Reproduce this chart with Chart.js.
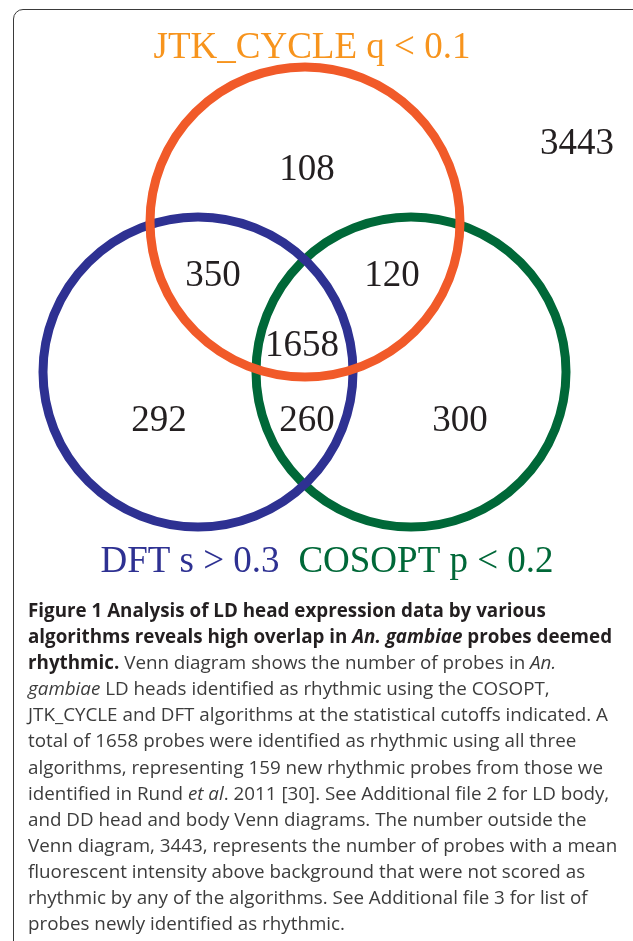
<!DOCTYPE html>
<html>
<head>
<meta charset="utf-8">
<script src="https://cdn.jsdelivr.net/npm/chart.js@4/dist/chart.umd.min.js"></script>
<style>
  html, body { margin: 0; padding: 0; background: #fff; overflow: hidden; }
  #wrap { position: relative; width: 633px; height: 941px; }
  #frame { position: absolute; left: 13px; top: 9px; width: 640px; height: 950px;
           border: 1.5px solid #3a3a3a; border-radius: 10px; box-sizing: border-box; }
  #myChart { position: absolute; left: 0; top: 0; }
  #caption { position: absolute; left: 28px; top: 597px; font-family: "Open Sans", sans-serif;
             font-size: 19px; line-height: 26.1px; color: #3c3c3c; white-space: nowrap;
             transform-origin: 0 0; }
  #caption b { color: #231f20; }
</style>
</head>
<body>
<div id="wrap">
  <div id="frame"></div>
  <canvas id="myChart" width="633" height="941"></canvas>
  <div id="caption">
    <div><b>Figure 1 Analysis of LD head expression data by various</b></div>
    <div><b>algorithms reveals high overlap in <i>An. gambiae</i> probes deemed</b></div>
    <div><b>rhythmic.</b> Venn diagram shows the number of probes in <i>An.</i></div>
    <div><i>gambiae</i> LD heads identified as rhythmic using the COSOPT,</div>
    <div id="refLine">JTK_CYCLE and DFT algorithms at the statistical cutoffs indicated. A</div>
    <div>total of 1658 probes were identified as rhythmic using all three</div>
    <div>algorithms, representing 159 new rhythmic probes from those we</div>
    <div>identified in Rund <i>et al</i>. 2011 [30]. See Additional file 2 for LD body,</div>
    <div>and DD head and body Venn diagrams. The number outside the</div>
    <div>Venn diagram, 3443, represents the number of probes with a mean</div>
    <div>fluorescent intensity above background that were not scored as</div>
    <div>rhythmic by any of the algorithms. See Additional file 3 for list of</div>
    <div>probes newly identified as rhythmic.</div>
  </div>
</div>
<script>
// sets and region counts
const setNames = ['JTK_CYCLE q < 0.1', 'DFT s > 0.3', 'COSOPT p < 0.2'];
const setColors = ['#f15a29', '#2e3192', '#006838'];
const setTextColors = ['#f7941d', '#2e3192', '#006838'];
const regionNames = ['JTK only', 'DFT only', 'COSOPT only', 'JTK+DFT', 'JTK+COSOPT', 'DFT+COSOPT', 'all three', 'none'];
const regionCounts = [108, 292, 300, 350, 120, 260, 1658, 3443];

// layout (diagram units)
const circleX = [305, 198, 411];
const circleY = [222, 372, 372];
const circleR = 155;
const countPos = [[307, 170], [159, 421], [460, 421], [213, 276], [392, 276], [307, 421], [302, 346], [577, 144]];
const setLabelPos = [[312, 58], [190, 572], [426, 572]];

var ctx = document.getElementById('myChart');

const vennText = {
    id: 'vennText',
    afterDatasetsDraw(chart) {
        const c = chart.ctx;
        const xs = chart.scales.x, ys = chart.scales.y;
        c.save();
        c.textAlign = 'center';
        c.font = '37px "Liberation Serif", "Times New Roman", serif';
        c.fillStyle = '#231f20';
        c.textBaseline = 'middle';
        regionCounts.forEach((n, i) => {
            c.fillText(String(n), xs.getPixelForValue(countPos[i][0]), ys.getPixelForValue(countPos[i][1]));
        });
        c.textBaseline = 'alphabetic';
        setNames.forEach((name, i) => {
            c.fillStyle = setTextColors[i];
            c.fillText(name, xs.getPixelForValue(setLabelPos[i][0]), ys.getPixelForValue(setLabelPos[i][1]));
        });
        c.restore();
    }
};

function radiusPx(context) {
    const s = context.chart.scales.x;
    if (!s) return 0;
    return s.getPixelForValue(circleR) - s.getPixelForValue(0);
}

var myChart = new Chart(ctx, { // eslint-disable-line
    type: 'scatter',
    data: {
        datasets: setNames.map((name, i) => ({
            label: name,
            data: [{ x: circleX[i], y: circleY[i] }],
            borderColor: setColors[i],
            backgroundColor: 'rgba(0,0,0,0)',
            borderWidth: 9,
            pointRadius: radiusPx,
            pointHoverRadius: radiusPx,
            pointHoverBorderWidth: 9,
            clip: false
        }))
    },
    options: {
        responsive: false,
        devicePixelRatio: 1,
        animation: false,
        events: [],
        layout: { padding: 0 },
        plugins: { legend: { display: false }, tooltip: { enabled: false } },
        scales: {
            x: { type: 'linear', min: 0, max: 633, display: false },
            y: { type: 'linear', min: 0, max: 941, reverse: true, display: false }
        }
    },
    plugins: [vennText]
});

// squeeze the caption to the column width of the figure
const cap = document.getElementById('caption');
const ref = document.getElementById('refLine').firstChild;
const range = document.createRange();
range.selectNodeContents(document.getElementById('refLine'));
const w = range.getBoundingClientRect().width;
cap.style.transform = 'scaleX(' + (580 / w) + ')';
</script>
</body>
</html>
